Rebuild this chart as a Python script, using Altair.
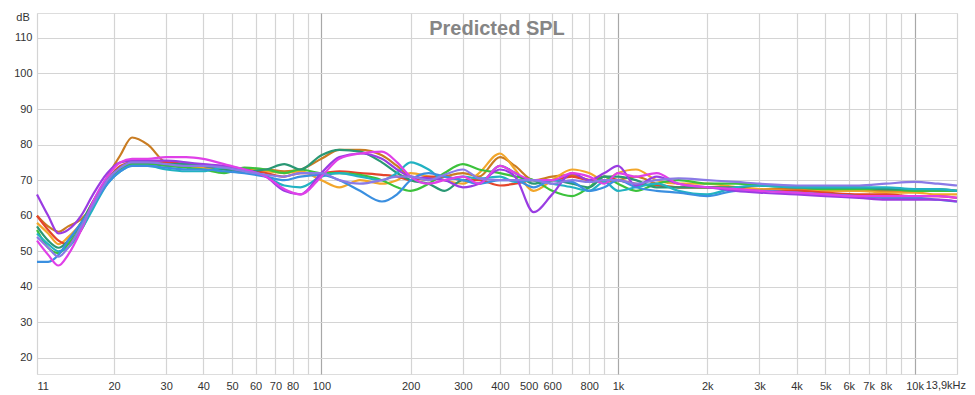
import altair as alt
import pandas as pd

freqs = [11, 12, 13, 14, 15.5, 17, 19, 21, 23, 26, 30, 35, 40, 47, 55, 65, 75, 85,
         100, 115, 135, 160, 180, 200, 230, 260, 300, 340, 400, 450, 520, 600, 700,
         800, 900, 1000, 1150, 1350, 1600, 2000, 2500, 3000, 4000, 5000, 6500, 8000,
         10000, 12000, 13900]

s_brown = [60, 57, 55.5, 57, 59, 63, 71, 77, 82, 80, 75, 74.5, 74, 73.5, 73, 73, 72.5, 73,
           76, 78.5, 78.5, 77, 74, 71, 70, 71, 72, 71, 76.5, 74, 70, 71, 71.5, 70, 69.5, 70,
           71, 69, 68, 68, 68, 67.5, 67.5, 67.5, 67, 67, 67, 67, 67]
s_orange = [58, 55, 52, 54, 58, 64, 70, 73.5, 74.5, 75, 74.5, 74, 73.5, 73, 73, 72.5, 72, 72.5,
            70, 68, 70, 69, 70, 72, 71, 70, 69, 72, 77.5, 73, 67, 70, 73, 72, 70, 72, 73, 70,
            69, 69, 68, 67.5, 67, 67, 67, 66.5, 66.5, 66, 66]
s_red = [60, 56, 53, 52, 56, 63, 70, 74, 75, 75, 75, 74.5, 74, 73.5, 73, 72, 71, 72, 72, 72.5,
         72, 71.5, 71, 70, 71, 71, 70, 70, 68.5, 69, 70, 70, 71, 70, 71, 70, 69, 68.5, 68, 68,
         67.5, 67, 67, 66.5, 66, 66, 65.5, 65.5, 65]
s_green = [56, 51, 49.5, 52, 57, 64, 70, 73, 74.5, 74.5, 74, 73.5, 73, 72, 73.5, 73, 72, 73, 72,
           72, 71.5, 70, 68, 67, 69, 72, 74.5, 73, 72, 71, 70, 67, 65.5, 68, 71, 69, 67, 69, 70,
           69, 69, 68.5, 68, 67.5, 67.5, 67.5, 67, 67, 67]
s_teal = [57, 53, 51, 53, 58, 64, 70, 73.5, 75, 75, 74.5, 74.5, 74, 73, 72.5, 73, 74.5, 73, 77,
          78.5, 78, 75, 72, 70, 69, 67, 70, 69, 74, 72, 69, 70, 69, 68, 71, 71, 70, 68, 68, 68,
          68, 68.5, 68, 68, 68, 67.5, 67.5, 67.5, 67]
s_cyan = [55, 52, 50, 51, 56, 62, 69, 72.5, 74, 74, 73, 72.5, 72.5, 73.5, 73, 71, 68.5, 68, 71,
          72, 71, 70, 72, 75, 73, 70, 71, 70.5, 71, 69.5, 70, 69, 68, 67, 69.5, 67, 68, 69, 67,
          66, 68, 68.5, 68, 68, 68, 68, 67.5, 67.5, 67]
s_blue = [47, 47, 49, 53, 58, 63, 69, 72.5, 74, 74, 73.5, 73, 73, 72.5, 72, 71, 70, 71, 71.5, 70,
          67, 64, 66, 70, 72, 71, 70, 69, 70, 70, 68, 70, 69.5, 67, 68, 70, 68, 67, 66.5, 65.5,
          67, 67, 66.5, 66, 65.5, 65, 65, 64.5, 64]
s_purple = [66, 60, 55, 56, 60, 66, 72, 75, 75.5, 75.5, 75.5, 75, 74.5, 74, 73, 71, 67, 66, 72,
            76.5, 77.5, 76, 73, 71, 70.5, 70, 68, 69, 73, 71, 61, 66, 72, 70, 72, 74, 68.5, 71,
            69, 68, 67, 66.5, 66, 65.5, 65, 64.5, 64.5, 64.5, 64]
s_magenta = [53, 49, 46, 49, 56, 64, 71, 75, 76, 76, 76.5, 76.5, 76, 74.5, 73, 71, 67.5, 66, 71,
             76, 77.5, 78, 75, 71, 69, 70, 71, 69, 74, 72, 70, 70, 72, 71, 69, 72, 71, 72, 69,
             68, 67.5, 67, 66.5, 66, 65.5, 65.5, 65.5, 65.5, 65]
s_lavender = [54, 51, 48.5, 51, 57, 63, 70, 73.5, 75, 75, 74.5, 74, 74, 73.5, 72.5, 71.5, 71, 72,
              72, 70, 69, 70, 71, 71, 70, 71.5, 73, 70.5, 70, 70, 70, 69, 70, 69.5, 70, 70, 69,
              70, 70.5, 70, 69.5, 69, 68.5, 68.5, 68.5, 69, 69.5, 69, 68.5]

series_names = ["brown", "orange", "red", "green", "teal", "cyan", "blue", "purple",
                "magenta", "lavender"]
series_values = [s_brown, s_orange, s_red, s_green, s_teal, s_cyan, s_blue, s_purple,
                 s_magenta, s_lavender]
series_colors = ["#c97c22", "#f2a62a", "#e4452c", "#3cc23c", "#2a9874", "#22b2c2",
                 "#3a8fe0", "#9a3ce2", "#e040e8", "#8a7ae6"]

x_grid = [11, 20, 30, 40, 50, 60, 70, 80, 90, 100, 200, 300, 400, 500, 600, 700, 800, 900,
          1000, 2000, 3000, 4000, 5000, 6000, 7000, 8000, 9000, 10000, 13900]
x_labels = {11: "11", 20: "20", 30: "30", 40: "40", 50: "50", 60: "60", 70: "70", 80: "80",
            100: "100", 200: "200", 300: "300", 400: "400", 500: "500", 600: "600",
            800: "800", 1000: "1k", 2000: "2k", 3000: "3k", 4000: "4k", 5000: "5k",
            6000: "6k", 7000: "7k", 8000: "8k", 10000: "10k"}
end_label = "13,9kHz"
y_ticks = [20, 30, 40, 50, 60, 70, 80, 90, 100, 110]
title_text = "Predicted SPL"
y_unit = "dB"

rows = []
for name, vals in zip(series_names, series_values):
    for f, v in zip(freqs, vals):
        rows.append({"freq": f, "dB": v, "series": name})
df = pd.DataFrame(rows)

label_expr = "{" + ",".join(f"'{k}':'{v}'" for k, v in x_labels.items()) + "}[datum.value] || ''"

lines = alt.Chart(df).mark_line(interpolate="monotone", strokeWidth=2.2).encode(
    x=alt.X("freq:Q",
            scale=alt.Scale(type="log", domain=[11, 13900], nice=False),
            axis=alt.Axis(values=x_grid, labelExpr=label_expr, title=None,
                          ticks=False, domain=False, labelOverlap=False, labelBound=False,
                          labelFontSize=11, labelColor="#333", labelPadding=6,
                          labelFont="Liberation Sans",
                          gridColor={"condition": {"test": "datum.value==100 || datum.value==1000 || datum.value==10000",
                                                   "value": "#a8a8a8"},
                                     "value": "#d4d4d4"},
                          gridWidth=1.2)),
    y=alt.Y("dB:Q",
            scale=alt.Scale(domain=[15.5, 117], nice=False, zero=False),
            axis=alt.Axis(values=y_ticks, title=None,
                          ticks=False, domain=False, labelFontSize=11, labelColor="#333",
                          labelPadding=5, labelFont="Liberation Sans",
                          gridColor="#d4d4d4", gridWidth=1.2)),
    color=alt.Color("series:N", scale=alt.Scale(domain=series_names, range=series_colors),
                    legend=None),
    detail="series:N",
)

title_layer = alt.Chart(pd.DataFrame({"t": [title_text]})).mark_text(
    fontSize=20, fontWeight="bold", color="#858585", font="Liberation Sans",
    align="center", baseline="middle"
).encode(text="t:N", x=alt.value(460), y=alt.value(16))

unit_layer = alt.Chart(pd.DataFrame({"t": [y_unit]})).mark_text(
    fontSize=11, color="#333", font="Liberation Sans", align="center", baseline="middle"
).encode(text="t:N", x=alt.value(-14), y=alt.value(5))

end_layer = alt.Chart(pd.DataFrame({"t": [end_label]})).mark_text(
    fontSize=11, color="#333", font="Liberation Sans", align="right", baseline="top"
).encode(text="t:N", x=alt.value(929), y=alt.value(367))

chart = alt.layer(lines, title_layer, unit_layer, end_layer).properties(
    width=920, height=361,
    autosize=alt.AutoSizeParams(type="none"),
    padding={"left": 29, "top": 5, "right": 10, "bottom": 20},
).configure_view(stroke="#a0a0a0", strokeWidth=2).configure(background="white")

chart.save("out.html", embed_options={"renderer": "svg", "actions": False})
